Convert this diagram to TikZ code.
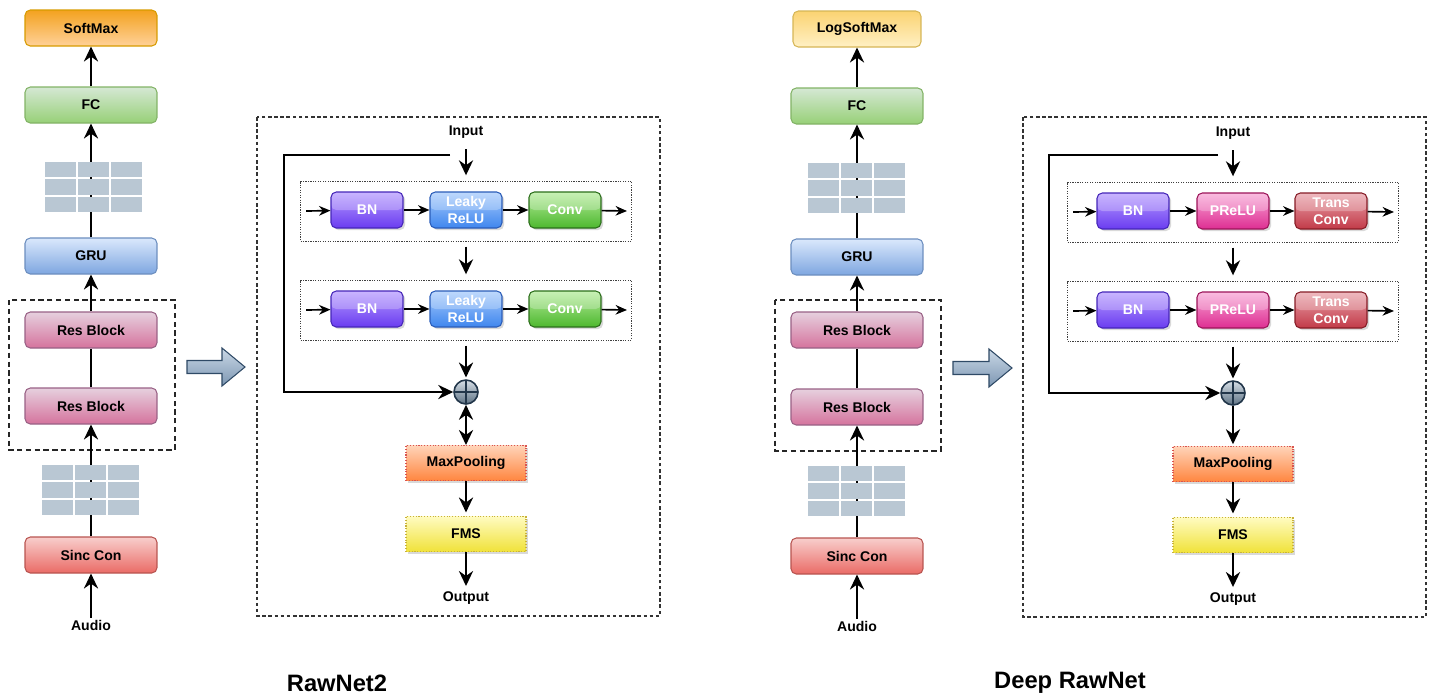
\documentclass[tikz,border=0pt]{standalone}
\usepackage{fontspec}
\setmainfont{Liberation Sans}
\usetikzlibrary{arrows.meta,shadows}

\definecolor{softtop}{HTML}{F3A21F}
\definecolor{softbot}{HTML}{FFD199}
\definecolor{softline}{HTML}{D79B00}
\definecolor{logtop}{HTML}{FBD372}
\definecolor{logbot}{HTML}{FFF0C4}
\definecolor{logline}{HTML}{D6B656}
\definecolor{fctop}{HTML}{D5E8D4}
\definecolor{fcbot}{HTML}{97D077}
\definecolor{fcline}{HTML}{82B366}
\definecolor{grutop}{HTML}{DAE8FC}
\definecolor{grubot}{HTML}{7EA6E0}
\definecolor{gruline}{HTML}{6C8EBF}
\definecolor{restop}{HTML}{E6D0DE}
\definecolor{resbot}{HTML}{D5739D}
\definecolor{resline}{HTML}{996185}
\definecolor{sinctop}{HTML}{F8CECC}
\definecolor{sincbot}{HTML}{EA6B66}
\definecolor{sincline}{HTML}{B85450}
\definecolor{cellgray}{HTML}{B9C7D3}
\definecolor{bntop}{HTML}{B79CFF}
\definecolor{bnbot}{HTML}{6A3CF0}
\definecolor{bnline}{HTML}{4526B8}
\definecolor{leakytop}{HTML}{A8CCFC}
\definecolor{leakybot}{HTML}{3F86EE}
\definecolor{leakyline}{HTML}{2A5CB8}
\definecolor{convtop}{HTML}{B6EC9C}
\definecolor{convbot}{HTML}{4DB82E}
\definecolor{convline}{HTML}{2B6E1A}
\definecolor{pretop}{HTML}{F8A6D6}
\definecolor{prebot}{HTML}{DE2E92}
\definecolor{preline}{HTML}{9C1459}
\definecolor{transtop}{HTML}{E9A2AA}
\definecolor{transbot}{HTML}{C23A48}
\definecolor{transline}{HTML}{861C26}
\definecolor{pooltop}{HTML}{FFD3B8}
\definecolor{poolbot}{HTML}{FF8640}
\definecolor{poolline}{HTML}{D9534F}
\definecolor{fmstop}{HTML}{FFFBC0}
\definecolor{fmsbot}{HTML}{F0E23A}
\definecolor{fmsline}{HTML}{C8B23A}
\definecolor{sumtop}{HTML}{D6DEE6}
\definecolor{sumbot}{HTML}{5E7284}
\definecolor{sumline}{HTML}{22364A}
\definecolor{arrowtop}{HTML}{CAD8E6}
\definecolor{arrowbot}{HTML}{7C96B2}
\definecolor{arrowline}{HTML}{2F4A66}

\tikzset{
  lbl/.style={font=\bfseries\fontsize{8}{9.5}\selectfont, inner sep=1pt},
  colbox/.style={lbl, draw, rounded corners=3pt, line width=0.6pt,
    minimum width=2.64cm, minimum height=0.72cm},
  softbox/.style={colbox, draw=softline, top color=softtop, bottom color=softbot},
  logbox/.style={colbox, draw=logline, top color=logtop, bottom color=logbot,
    minimum width=2.56cm},
  fcbox/.style={colbox, draw=fcline, top color=fctop, bottom color=fcbot},
  grubox/.style={colbox, draw=gruline, top color=grutop, bottom color=grubot},
  resbox/.style={colbox, draw=resline, top color=restop, bottom color=resbot},
  sincbox/.style={colbox, draw=sincline, top color=sinctop, bottom color=sincbot},
  glossbox/.style={lbl, text=white, align=center, rounded corners=3pt, line width=0.6pt,
    minimum width=1.44cm, minimum height=0.72cm,
    drop shadow={shadow xshift=1.2pt, shadow yshift=-1.2pt, opacity=0.3},
    path picture={\fill[white, opacity=0.25] (path picture bounding box.north west)
      rectangle (path picture bounding box.east);}},
  bnbox/.style={glossbox, draw=bnline, top color=bntop, bottom color=bnbot},
  leakybox/.style={glossbox, draw=leakyline, top color=leakytop, bottom color=leakybot},
  convbox/.style={glossbox, draw=convline, top color=convtop, bottom color=convbot},
  prebox/.style={glossbox, draw=preline, top color=pretop, bottom color=prebot},
  transbox/.style={glossbox, draw=transline, top color=transtop, bottom color=transbot},
  flatbox/.style={lbl, line width=0.6pt, densely dotted, minimum width=2.4cm, minimum height=0.7cm,
    drop shadow={shadow xshift=1.2pt, shadow yshift=-1.2pt, opacity=0.3}},
  poolbox/.style={flatbox, draw=poolline, top color=pooltop, bottom color=poolbot},
  fmsbox/.style={flatbox, draw=fmsline, top color=fmstop, bottom color=fmsbot},
  rowbox/.style={draw=black!75, line width=0.5pt, dash pattern=on 0.7pt off 0.7pt,
    minimum width=6.62cm, minimum height=1.2cm},
  sumnode/.style={circle, draw=sumline, line width=0.9pt, minimum size=0.48cm, inner sep=0pt,
    top color=sumtop, bottom color=sumbot,
    path picture={\draw[sumline, line width=0.9pt]
      (path picture bounding box.north) -- (path picture bounding box.south)
      (path picture bounding box.west) -- (path picture bounding box.east);}},
  flow/.style={line width=1.4pt, -{Stealth[length=8.5pt, width=8pt]}},
  both/.style={line width=1.4pt, {Stealth[length=8.5pt, width=8pt]}-{Stealth[length=8.5pt, width=8pt]}},
  tiny/.style={line width=0.95pt, -{Stealth[length=6.5pt, width=5.5pt]}},
  panel/.style={draw=black!80, line width=0.6pt, dash pattern=on 2pt off 1.5pt},
  group/.style={draw=black!85, line width=0.6pt, dash pattern=on 3pt off 2pt},
  cell/.style={fill=cellgray},
  bigarrow/.style={draw=arrowline, line width=0.6pt, top color=arrowtop, bottom color=arrowbot},
  title/.style={font=\bfseries\fontsize{13.5}{16}\selectfont},
}

\begin{document}
\begin{tikzpicture}[x=0.02cm, y=-0.02cm]
  \useasboundingbox (0,0) rectangle (1437,698);

  % RawNet2 column
  \node[softbox] (soft) at (91,28) {SoftMax};
  \node[fcbox] (fc) at (91,105) {FC};
  \node[grubox] (gru) at (91,256) {GRU};
  \node[resbox] (res1) at (91,330) {Res Block};
  \node[resbox] (res2) at (91,406) {Res Block};
  \node[sincbox] (sinc) at (91,555) {Sinc Con};
  \node[lbl] (audio) at (91,625) {Audio};
  \draw[group] (9,300) rectangle (175,450);
  \begin{scope}[flow]
    \draw (audio) to (sinc);
    \draw (sinc) to (res2);
    \draw[-] (res2) to (res1);
    \draw (res1) to (gru);
    \draw (gru) to (fc);
    \draw (fc) to (soft);
  \end{scope}
  \foreach \gx in {0,1,2} \foreach \gy in {0,1,2} {
    \fill[cell] (45+\gx*33, 162+\gy*17.33) rectangle ++(31,15.33);
    \fill[cell] (42+\gx*33, 465+\gy*17.33) rectangle ++(31,15.33);
  }

  \draw[bigarrow] (187,360.5) -- (222,360.5) -- (222,348) -- (245,367)
    -- (222,386) -- (222,373.5) -- (187,373.5) -- cycle;

  % RawNet2 residual block
  \draw[panel] (257,117) rectangle (660,616);
  \node[lbl] (in) at (466,132) {Input};
  \node[rowbox] (row1) at (466,211) {};
  \node[rowbox] (row2) at (466,310) {};
  \node[bnbox] (bn1) at (367,210) {BN};
  \node[leakybox] (act1) at (466,210) {Leaky\\ReLU};
  \node[convbox] (conv1) at (565,210) {Conv};
  \node[bnbox] (bn2) at (367,309) {BN};
  \node[leakybox] (act2) at (466,309) {Leaky\\ReLU};
  \node[convbox] (conv2) at (565,309) {Conv};
  \node[sumnode] (sum) at (466,392) {};
  \node[poolbox] (pool) at (466,463) {MaxPooling};
  \node[fmsbox] (fms) at (466,534) {FMS};
  \node[lbl] (out) at (466,598) {Output};
  \coordinate (sk1) at (450,155);
  \coordinate (sk2) at (284,392);
  \begin{scope}[tiny]
    \draw ([xshift=3.4pt]row1.west) to (bn1);
    \draw (bn1) to (act1);
    \draw (act1) to (conv1);
    \draw (conv1) to ([xshift=-2.8pt]row1.east);
    \draw ([xshift=3.4pt]row2.west) to (bn2);
    \draw (bn2) to (act2);
    \draw (act2) to (conv2);
    \draw (conv2) to ([xshift=-2.8pt]row2.east);
  \end{scope}
  \begin{scope}[flow]
    \draw[shorten <=5pt, shorten >=3pt] (in) to (row1);
    \draw[shorten <=3pt, shorten >=3pt] (row1) to (row2);
    \draw[shorten <=3pt, shorten >=1pt] (row2) to (sum);
    \draw (sk1) -| (sk2) -- (sum);
    \draw[both] (sum) to (pool);
    \draw[shorten >=2pt] (pool) to (fms);
    \draw[shorten >=2pt] (fms) to (out);
  \end{scope}
  \node[title] (name1) at (337,683) {RawNet2};

  % Deep RawNet column
  \node[logbox] (dlog) at (857,29) {LogSoftMax};
  \node[fcbox] (dfc) at (857,106) {FC};
  \node[grubox] (dgru) at (857,257) {GRU};
  \node[resbox] (dres1) at (857,330) {Res Block};
  \node[resbox] (dres2) at (857,407) {Res Block};
  \node[sincbox] (dsinc) at (857,556) {Sinc Con};
  \node[lbl] (daudio) at (857,626) {Audio};
  \draw[group] (775,300) rectangle (941,451);
  \begin{scope}[flow]
    \draw (daudio) to (dsinc);
    \draw (dsinc) to (dres2);
    \draw[-] (dres2) to (dres1);
    \draw (dres1) to (dgru);
    \draw (dgru) to (dfc);
    \draw (dfc) to (dlog);
  \end{scope}
  \foreach \gx in {0,1,2} \foreach \gy in {0,1,2} {
    \fill[cell] (808+\gx*33, 163+\gy*17.33) rectangle ++(31,15.33);
    \fill[cell] (808+\gx*33, 466+\gy*17.33) rectangle ++(31,15.33);
  }

  \draw[bigarrow] (953,361.5) -- (989,361.5) -- (989,349) -- (1012,368)
    -- (989,387) -- (989,374.5) -- (953,374.5) -- cycle;

  % Deep RawNet residual block
  \draw[panel] (1023,117) rectangle (1426,617);
  \node[lbl] (din) at (1233,133) {Input};
  \node[rowbox] (drow1) at (1233,212) {};
  \node[rowbox] (drow2) at (1233,311) {};
  \node[bnbox] (dbn1) at (1133,211) {BN};
  \node[prebox] (dact1) at (1233,211) {PReLU};
  \node[transbox] (dconv1) at (1331,211) {Trans\\Conv};
  \node[bnbox] (dbn2) at (1133,310) {BN};
  \node[prebox] (dact2) at (1233,310) {PReLU};
  \node[transbox] (dconv2) at (1331,310) {Trans\\Conv};
  \node[sumnode] (dsum) at (1233,393) {};
  \node[poolbox] (dpool) at (1233,464) {MaxPooling};
  \node[fmsbox] (dfms) at (1233,535) {FMS};
  \node[lbl] (dout) at (1233,599) {Output};
  \coordinate (dsk1) at (1218,155);
  \coordinate (dsk2) at (1049,393);
  \begin{scope}[tiny]
    \draw ([xshift=3.4pt]drow1.west) to (dbn1);
    \draw (dbn1) to (dact1);
    \draw (dact1) to (dconv1);
    \draw (dconv1) to ([xshift=-2.8pt]drow1.east);
    \draw ([xshift=3.4pt]drow2.west) to (dbn2);
    \draw (dbn2) to (dact2);
    \draw (dact2) to (dconv2);
    \draw (dconv2) to ([xshift=-2.8pt]drow2.east);
  \end{scope}
  \begin{scope}[flow]
    \draw[shorten <=5pt, shorten >=3pt] (din) to (drow1);
    \draw[shorten <=3pt, shorten >=3pt] (drow1) to (drow2);
    \draw[shorten <=3pt, shorten >=1pt] (drow2) to (dsum);
    \draw (dsk1) -| (dsk2) -- (dsum);
    \draw[shorten >=1pt] (dsum) to (dpool);
    \draw[shorten >=2pt] (dpool) to (dfms);
    \draw[shorten >=2pt] (dfms) to (dout);
  \end{scope}
  \node[title] (name2) at (1070,683) {Deep RawNet};
\end{tikzpicture}
\end{document}
